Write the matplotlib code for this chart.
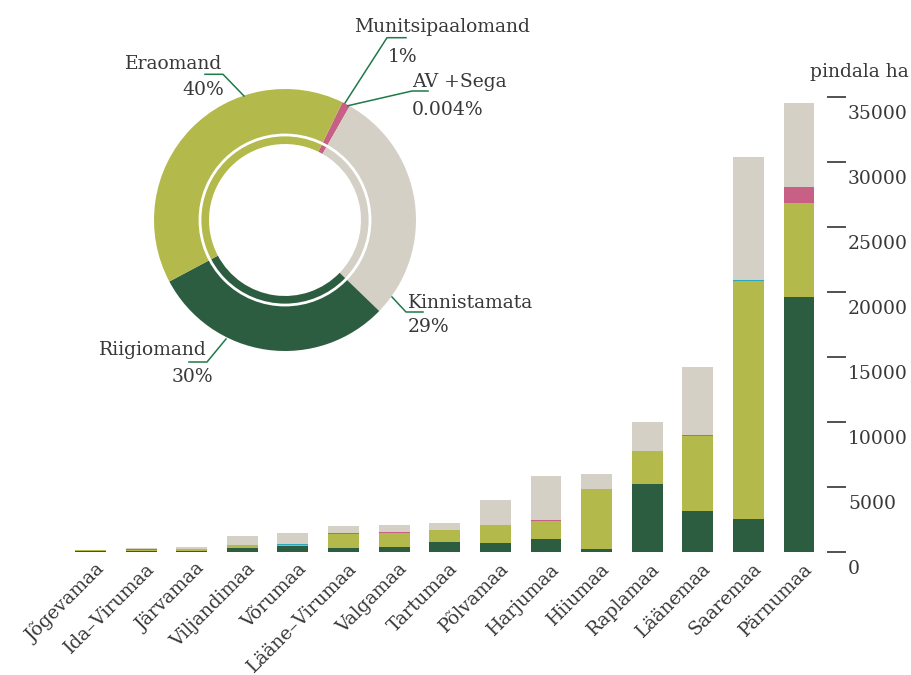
import numpy as np
import matplotlib.pyplot as plt
from matplotlib.transforms import ScaledTranslation

plt.rcParams['font.family'] = ['DejaVu Serif']

# Maakonnad ja pindala (ha) omandivormi kaupa
maakonnad = ['Jõgevamaa', 'Ida–Virumaa', 'Järvamaa', 'Viljandimaa', 'Võrumaa',
             'Lääne–Virumaa', 'Valgamaa', 'Tartumaa', 'Põlvamaa', 'Harjumaa',
             'Hiiumaa', 'Raplamaa', 'Läänemaa', 'Saaremaa', 'Pärnumaa']
riigiomand = [60, 80, 80, 280, 450, 300, 360, 750, 670, 980, 210, 5200, 3130, 2510, 19590]
eraomand = [80, 60, 130, 230, 80, 1080, 1080, 920, 1380, 1380, 4610, 2540, 5740, 18300, 7230]
munitsipaal = [0, 80, 0, 0, 0, 80, 110, 0, 0, 60, 0, 0, 80, 0, 1230]
av_sega = [0, 0, 0, 0, 60, 0, 0, 0, 0, 0, 0, 0, 0, 60, 0]
kinnistamata = [0, 80, 150, 690, 850, 540, 490, 540, 1920, 3380, 1150, 2230, 5230, 9460, 6460]

y_ticks = [0, 5000, 10000, 15000, 20000, 25000, 30000, 35000]

# Donut: osakaalud
osa_nimed = ['Munitsipaalomand', 'AV +Sega', 'Kinnistamata', 'Riigiomand', 'Eraomand']
osa_protsent = [1, 0.004, 29, 30, 40]
osa_sildid = ['1%', '0.004%', '29%', '30%', '40%']

C_RIIGI = '#2d5d40'
C_ERA = '#b3ba4b'
C_MUNI = '#c85f84'
C_AV = '#2aa8c0'
C_KINN = '#d4d0c5'
C_LINE = '#1e7a48'
C_TEXT = '#383838'

W, H = 912, 675
fig = plt.figure(figsize=(W / 100, H / 100), dpi=100)


def fx(px):
    return px / W


def fy(py):
    return 1 - py / H


# --- stacked bars ---
ax = fig.add_axes([fx(60.1), fy(551.7), (827 - 60.1) / W, (551.7 - 83.6) / H])
x = np.arange(len(maakonnad))
bottom = np.zeros(len(maakonnad))
for vals, col in [(riigiomand, C_RIIGI), (eraomand, C_ERA), (munitsipaal, C_MUNI),
                  (av_sega, C_AV), (kinnistamata, C_KINN)]:
    vals = np.array(vals, dtype=float)
    ax.bar(x, vals, bottom=bottom, width=0.61, color=col, linewidth=0)
    bottom += vals

ax.set_xlim(-0.6, 14.553)
ax.set_ylim(0, 36000)
for s in ax.spines.values():
    s.set_visible(False)

ax.yaxis.tick_right()
ax.set_yticks(y_ticks)
ax.tick_params(axis='y', length=13.7, width=1.2, color='#333333', pad=1.5,
               labelsize=13.5, labelcolor=C_TEXT)
down = ScaledTranslation(0, -0.15, fig.dpi_scale_trans)
for lab in ax.get_yticklabels():
    lab.set_transform(lab.get_transform() + down)

ax.set_xticks(x, maakonnad)
ax.tick_params(axis='x', length=0, pad=5.8, labelsize=13.5, labelcolor=C_TEXT)
right = ScaledTranslation(0.04, 0, fig.dpi_scale_trans)
for lab in ax.get_xticklabels():
    lab.set_rotation(45)
    lab.set_ha('right')
    lab.set_va('top')
    lab.set_rotation_mode('anchor')
    lab.set_transform(lab.get_transform() + right)

# --- donut ---
cx, cy, r = 285, 220, 131
pax = fig.add_axes([fx(cx - r), fy(cy + r), 2 * r / W, 2 * r / H])
pax.pie(osa_protsent, colors=[C_MUNI, C_AV, C_KINN, C_RIIGI, C_ERA],
        startangle=64, counterclock=False, radius=1,
        wedgeprops=dict(width=0.42, linewidth=0))
pax.add_patch(plt.Circle((0, 0), 0.649, fill=False, ec='white', lw=2))
pax.set_xlim(-1, 1)
pax.set_ylim(-1, 1)

# --- labels & leader lines (pixel coordinates) ---
oax = fig.add_axes([0, 0, 1, 1])
oax.set_xlim(0, W)
oax.set_ylim(H, 0)
oax.axis('off')

leaders = [
    [(406, 37.7), (387, 37.7), (345, 103)],
    [(428, 91), (412, 91), (348, 105.7)],
    [(392, 297), (406, 312), (423, 312)],
    [(226, 339), (207, 362), (189, 362)],
    [(205, 74.3), (223, 74.3), (244, 96)],
]
name_pos = [(354, 31.7, 'left'), (412, 86.7, 'left'), (408, 308, 'left'),
            (207, 355, 'right'), (222, 69.3, 'right')]
pct_pos = [(388, 61.7, 'left'), (412, 115, 'left'), (408, 332, 'left'),
           (213, 382, 'right'), (224, 95, 'right')]

for nimi, silt, pts, npos, ppos in zip(osa_nimed, osa_sildid, leaders, name_pos, pct_pos):
    xs, ys = zip(*pts)
    oax.plot(xs, ys, color=C_LINE, lw=1.1)
    oax.text(npos[0], npos[1], nimi, ha=npos[2], va='baseline', fontsize=13.5, color=C_TEXT)
    oax.text(ppos[0], ppos[1], silt, ha=ppos[2], va='baseline', fontsize=13.5, color=C_TEXT)

oax.text(909, 77, 'pindala ha', ha='right', va='baseline', fontsize=13.5, color=C_TEXT)

fig.savefig('out.png', dpi=100)
